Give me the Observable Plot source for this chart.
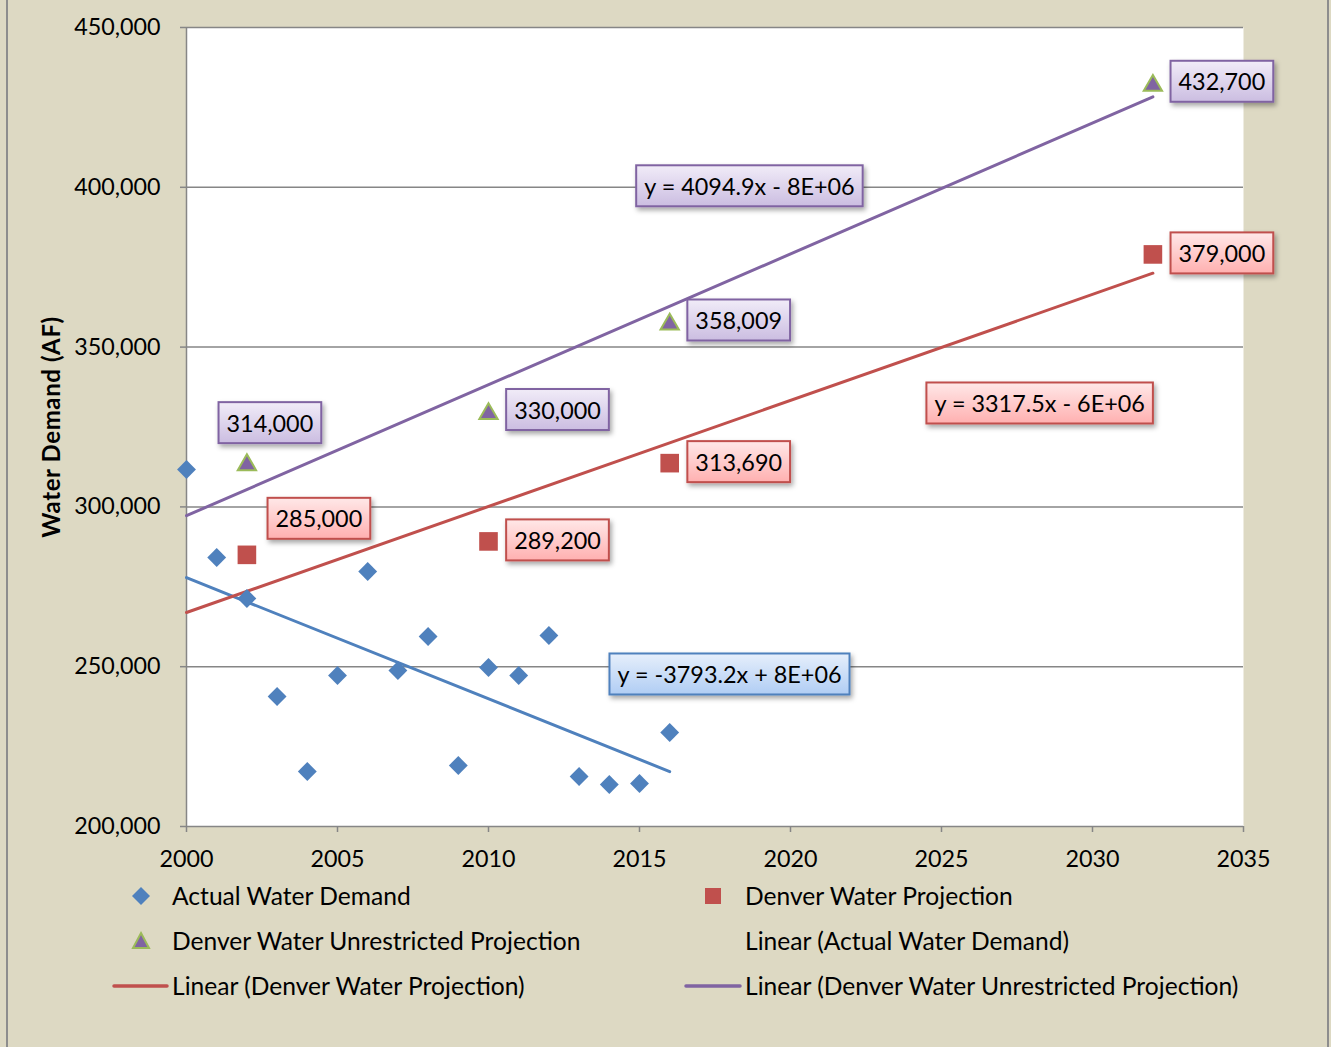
<!DOCTYPE html>
<html><head><meta charset="utf-8">
<script src="https://cdn.jsdelivr.net/npm/d3@7"></script>
<script src="https://cdn.jsdelivr.net/npm/@observablehq/plot@0.6"></script>
<style>
html,body{margin:0;padding:0;background:#ddd9c3;}
#wrap{position:relative;width:1331px;height:1047px;background:#ddd9c3;font-family:Lato,sans-serif;overflow:hidden;color:#000;}
#wrap:before{content:"";position:absolute;left:6px;top:0;bottom:0;width:2px;background:#8d8d8d;}
#wrap:after{content:"";position:absolute;left:1327px;top:0;bottom:0;width:2px;background:#8d8d8d;}
#chart{position:absolute;left:0;top:0;}
.ytitle{position:absolute;left:50px;top:427px;transform:translate(-50%,-50%) rotate(-90deg);font-weight:bold;font-size:24px;letter-spacing:0.6px;white-space:nowrap;}
.leg{position:absolute;font-size:24.6px;line-height:1;white-space:nowrap;transform:translateY(-50%);}
.sym{position:absolute;overflow:visible;}
.lbl{font-size:23.4px;}
</style></head>
<body>
<div id="wrap">
  <div id="chart"></div>
  <div class="ytitle">Water Demand (AF)</div>
  <div id="legend"></div>
</div>
<script>
// ---- data ----
const actualYears = [2000,2001,2002,2003,2004,2005,2006,2007,2008,2009,2010,2011,2012,2013,2014,2015,2016];
const actualDemand = [311700,284170,271340,240680,217210,247250,279790,248810,259450,219090,249750,247250,259760,215650,213140,213460,229410];
const projYears = [2002,2010,2016,2032];
const projDemand = [285000,289200,313690,379000];
const unresYears = [2002,2010,2016,2032];
const unresDemand = [314000,330000,358009,432700];
const xTicks = [2000,2005,2010,2015,2020,2025,2030,2035];
const yTicks = [200000,250000,300000,350000,400000,450000];
const seriesNames = ["Actual Water Demand","Denver Water Projection","Denver Water Unrestricted Projection","Linear (Actual Water Demand)","Linear (Denver Water Projection)","Linear (Denver Water Unrestricted Projection)"];
const equationTexts = ["y = -3793.2x + 8E+06","y = 3317.5x - 6E+06","y = 4094.9x - 8E+06"];
// annotation anchor positions (data space) for the equation boxes
const equationAnchorX = [2017.98,2028.25,2018.64];
const equationAnchorY = [247250,332040,400000];
const trendStart = 2000;

const C = {blue:"#4f81bd", red:"#c0504d", purple:"#8064a2", green:"#9bbb59", grid:"#868686"};

const toRows = (xs, ys) => xs.map((x,i)=>({x, y:ys[i]}));
const actual = toRows(actualYears, actualDemand);
const proj = toRows(projYears, projDemand);
const unres = toRows(unresYears, unresDemand);

function fit(xs, ys){
  const mx = d3.mean(xs), my = d3.mean(ys);
  let sxy=0, sxx=0;
  xs.forEach((x,i)=>{sxy+=(x-mx)*(ys[i]-my); sxx+=(x-mx)*(x-mx);});
  const b = sxy/sxx;
  return x => my + b*(x-mx);
}
function trend(xs, ys, x0){
  const f = fit(xs, ys), x1 = d3.max(xs);
  return [{x:x0, y:f(x0)}, {x:x1, y:f(x1)}];
}
const trendActual = trend(actualYears, actualDemand, trendStart);
const trendProj = trend(projYears, projDemand, trendStart);
const trendUnres = trend(unresYears, unresDemand, trendStart);

const eqRows = equationTexts.map((t,i)=>({text:t, x:equationAnchorX[i], y:equationAnchorY[i]}));
const fmt = d3.format(",");

const svg = Plot.plot({
  width:1331, height:880,
  marginLeft:186, marginRight:88, marginTop:27, marginBottom:54,
  style:{background:"transparent", fontFamily:"Lato, sans-serif", fontSize:"23.3px", color:"#000", overflow:"visible"},
  x:{domain:[2000,2035]},
  y:{domain:[200000,450000]},
  marks:[
    Plot.frame({fill:"white", stroke:"none"}),
    Plot.gridY(yTicks, {stroke:C.grid, strokeOpacity:1, strokeWidth:1.5}),
    Plot.axisY(yTicks, {tickSize:6, tickPadding:20, tickFormat:fmt, stroke:C.grid, strokeWidth:1.5, label:null}),
    Plot.axisX(xTicks, {tickSize:6, tickPadding:18, tickFormat:d=>String(d), stroke:C.grid, strokeWidth:1.5, label:null}),
    Plot.ruleX([2000], {stroke:C.grid, strokeWidth:1.5}),
    Plot.line(trendActual, {x:"x", y:"y", stroke:C.blue, strokeWidth:3}),
    Plot.line(trendProj, {x:"x", y:"y", stroke:C.red, strokeWidth:3}),
    Plot.line(trendUnres, {x:"x", y:"y", stroke:C.purple, strokeWidth:3}),
    Plot.dot(actual, {x:"x", y:"y", symbol:"diamond2", r:8.5, fill:C.blue}),
    Plot.dot(proj, {x:"x", y:"y", symbol:"square", r:10.5, fill:C.red}),
    Plot.dot(unres, {x:"x", y:"y", symbol:"triangle", r:6.8, fill:C.purple, stroke:C.green, strokeWidth:2, dy:2.7}),
    // data labels
    Plot.text(unres.slice(0,1), {x:"x", y:"y", text:d=>fmt(d.y), dx:23, dy:-38, className:"lbl", ariaLabel:()=>"box-pur"}),
    Plot.text(unres.slice(1), {x:"x", y:"y", text:d=>fmt(d.y), dx:69, className:"lbl", ariaLabel:()=>"box-pur"}),
    Plot.text(proj.slice(0,1), {x:"x", y:"y", text:d=>fmt(d.y), dx:72, dy:-35, className:"lbl", ariaLabel:()=>"box-red"}),
    Plot.text(proj.slice(1), {x:"x", y:"y", text:d=>fmt(d.y), dx:69, className:"lbl", ariaLabel:()=>"box-red"}),
    // equations
    Plot.text(eqRows.slice(0,1), {x:"x", y:"y", text:"text", className:"lbl", ariaLabel:()=>"box-blue"}),
    Plot.text(eqRows.slice(1,2), {x:"x", y:"y", text:"text", className:"lbl", ariaLabel:()=>"box-red"}),
    Plot.text(eqRows.slice(2,3), {x:"x", y:"y", text:"text", className:"lbl", ariaLabel:()=>"box-pur"})
  ]
});
document.getElementById("chart").append(svg);

// boxes behind labels
const ns = "http://www.w3.org/2000/svg";
const defs = document.createElementNS(ns, "defs");
defs.innerHTML = `
<linearGradient id="g-pur" x1="0" y1="0" x2="0" y2="1"><stop offset="0" stop-color="#f1ecf8"/><stop offset="1" stop-color="#cbbde1"/></linearGradient>
<linearGradient id="g-red" x1="0" y1="0" x2="0" y2="1"><stop offset="0" stop-color="#ffe8e8"/><stop offset="1" stop-color="#ffb0b0"/></linearGradient>
<linearGradient id="g-blue" x1="0" y1="0" x2="0" y2="1"><stop offset="0" stop-color="#e6effb"/><stop offset="1" stop-color="#b0cdf4"/></linearGradient>
<filter id="shadow" x="-20%" y="-40%" width="150%" height="190%"><feDropShadow dx="2" dy="3" stdDeviation="2.5" flood-color="#000" flood-opacity="0.35"/></filter>`;
svg.prepend(defs);
const strokeOf = {pur:C.purple, red:C.red, blue:C.blue};
const targets = [];
svg.querySelectorAll('[aria-label^="box-"]').forEach(el=>{
  const kind = el.getAttribute("aria-label").slice(4);
  if (el.tagName.toLowerCase() === "text") targets.push([el, kind]);
  else el.querySelectorAll("text").forEach(t=>targets.push([t, kind]));
});
targets.forEach(([t, kind])=>{
  t.style.fontSize = "23.4px";
  const b = t.getBBox();
  const r = document.createElementNS(ns, "rect");
  const px = 8, py = 6.5;
  r.setAttribute("x", b.x - px);
  r.setAttribute("y", b.y - py);
  r.setAttribute("width", b.width + 2*px);
  r.setAttribute("height", b.height + 2*py);
  r.setAttribute("fill", `url(#g-${kind})`);
  r.setAttribute("stroke", strokeOf[kind]);
  r.setAttribute("stroke-width", 2);
  r.setAttribute("filter", "url(#shadow)");
  if (t.getAttribute("transform")) r.setAttribute("transform", t.getAttribute("transform"));
  t.parentNode.insertBefore(r, t);
});

// legend (HTML below the SVG)
const legend = document.getElementById("legend");
const items = [
  {name:seriesNames[0], tx:172, y:896, sym:`<svg class="sym" style="left:131px;top:886px" width="20" height="20"><path d="M10,1L19,10L10,19L1,10Z" fill="${C.blue}"/></svg>`},
  {name:seriesNames[1], tx:745, y:896, sym:`<svg class="sym" style="left:704px;top:887px" width="18" height="18"><rect x="1" y="1" width="16" height="16" fill="${C.red}"/></svg>`},
  {name:seriesNames[2], tx:172, y:941, sym:`<svg class="sym" style="left:131px;top:931px" width="20" height="20"><path d="M10,2L18,17L2,17Z" fill="${C.purple}" stroke="${C.green}" stroke-width="2"/></svg>`},
  {name:seriesNames[3], tx:745, y:941, sym:""},
  {name:seriesNames[4], tx:172, y:986, sym:`<svg class="sym" style="left:112px;top:980px" width="58" height="12"><line x1="2" y1="6" x2="55" y2="6" stroke="${C.red}" stroke-width="3.5" stroke-linecap="round"/></svg>`},
  {name:seriesNames[5], tx:745, y:986, sym:`<svg class="sym" style="left:684px;top:980px" width="58" height="12"><line x1="2" y1="6" x2="56" y2="6" stroke="${C.purple}" stroke-width="3.5" stroke-linecap="round"/></svg>`}
];
legend.innerHTML = items.map(it=>`${it.sym}<div class="leg" style="left:${it.tx}px;top:${it.y}px">${it.name}</div>`).join("");
</script>
</body></html>
